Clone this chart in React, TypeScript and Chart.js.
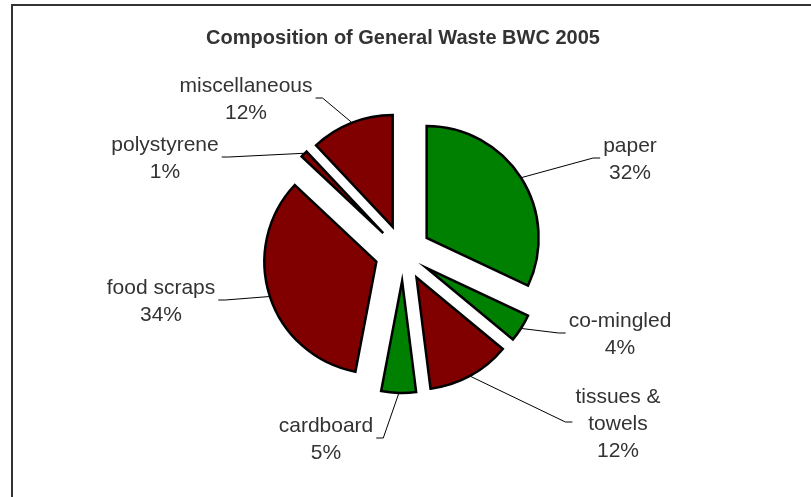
import React, { useEffect, useRef } from "react";
import { Chart, registerables } from "chart.js";

Chart.register(...registerables);

// ---- data ----
const TITLE = "Composition of General Waste BWC 2005";
const categories = [
  "paper",
  "co-mingled",
  "tissues & towels",
  "cardboard",
  "food scraps",
  "polystyrene",
  "miscellaneous",
];
const values = [32, 4, 12, 5, 34, 1, 12];
const sliceColors = ["#008000", "#008000", "#800000", "#008000", "#800000", "#800000", "#800000"];

// ---- layout (label block centres relative to the pie centre) ----
const labelOffsetX = [227, 217, 215, -77, -242, -238, -157];
const labelOffsetY = [-95, 80, 169, 185, 47, -96, -155];

const FONT = "'Liberation Sans', Arial, Helvetica, sans-serif";
const TEXT = "#333333";
const EXPLODE = 28;
const RADIUS = 112;
const LABEL_SIZE = 21;
const LINE_H = 27;
const CAP_H = 15;
const WRAP_W = 120;

function wrap(ctx: CanvasRenderingContext2D, text: string, maxW: number): string[] {
  const words = text.split(" ");
  const out: string[] = [];
  let cur = "";
  for (const w of words) {
    const test = cur ? cur + " " + w : w;
    if (cur && ctx.measureText(test).width > maxW) {
      out.push(cur);
      cur = w;
    } else {
      cur = test;
    }
  }
  if (cur) out.push(cur);
  return out;
}

const explodePlugin = {
  id: "explodeSlices",
  beforeDatasetDraw(chart: any, args: any) {
    const ctx = chart.ctx as CanvasRenderingContext2D;
    args.meta.data.forEach((arc: any) => {
      const mid = (arc.startAngle + arc.endAngle) / 2;
      ctx.save();
      ctx.translate(Math.cos(mid) * EXPLODE, Math.sin(mid) * EXPLODE);
      arc.draw(ctx, chart.chartArea);
      ctx.restore();
    });
    return false;
  },
};

const labelPlugin = {
  id: "sliceLabels",
  afterDatasetsDraw(chart: any) {
    const ctx = chart.ctx as CanvasRenderingContext2D;
    const meta = chart.getDatasetMeta(0);
    const total = values.reduce((a, b) => a + b, 0);
    ctx.save();
    ctx.font = `${LABEL_SIZE}px ${FONT}`;
    ctx.fillStyle = TEXT;
    ctx.strokeStyle = "#000";
    ctx.lineWidth = 1;
    ctx.textAlign = "center";
    ctx.textBaseline = "alphabetic";
    meta.data.forEach((arc: any, i: number) => {
      const mid = (arc.startAngle + arc.endAngle) / 2;
      const cx = arc.x + Math.cos(mid) * EXPLODE;
      const cy = arc.y + Math.sin(mid) * EXPLODE;
      const r = arc.outerRadius + 1;
      const px = cx + Math.cos(mid) * r;
      const py = cy + Math.sin(mid) * r;
      const lines = [...wrap(ctx, categories[i], WRAP_W), Math.round((values[i] / total) * 100) + "%"];
      const w = Math.max(...lines.map((l) => ctx.measureText(l).width));
      const lx = arc.x + labelOffsetX[i];
      const ly = arc.y + labelOffsetY[i];
      const blockH = (lines.length - 1) * LINE_H + CAP_H;
      const firstBase = ly - blockH / 2 + CAP_H;
      lines.forEach((l, k) => ctx.fillText(l, lx, firstBase + k * LINE_H));
      const side = lx > px ? -1 : 1;
      const endX = lx + side * (w / 2 + 3);
      const elbowX = endX + side * 7;
      ctx.beginPath();
      ctx.moveTo(px, py);
      ctx.lineTo(elbowX, ly);
      ctx.lineTo(endX, ly);
      ctx.stroke();
    });
    ctx.restore();
  },
};

export default function App() {
  const ref = useRef<HTMLCanvasElement>(null);
  useEffect(() => {
    const chart = new Chart(ref.current!, {
      type: "pie",
      data: {
        labels: categories,
        datasets: [
          {
            data: values,
            backgroundColor: sliceColors,
            borderColor: "#000000",
            borderWidth: 2.5,
            borderJoinStyle: "miter",
            radius: RADIUS,
          } as any,
        ],
      },
      options: {
        responsive: false,
        animation: false,
        events: [],
        layout: { padding: { top: 0, bottom: 41, left: 0, right: 5 } },
        plugins: {
          legend: { display: false },
          tooltip: { enabled: false },
          title: {
            display: true,
            text: TITLE,
            color: TEXT,
            font: { family: FONT, size: 20, weight: "bold" },
            padding: { top: 26, bottom: 0 },
          },
        },
      } as any,
      plugins: [explodePlugin, labelPlugin],
    });
    return () => chart.destroy();
  }, []);
  return (
    <div style={{ position: "absolute", left: 0, top: 0, width: 811, height: 497, overflow: "hidden", background: "#ffffff" }}>
      <div
        style={{
          position: "absolute",
          left: 11,
          top: 4,
          width: 900,
          height: 600,
          borderLeft: "2px solid #333333",
          borderTop: "2px solid #333333",
        }}
      />
      <canvas ref={ref} width={811} height={497} style={{ position: "absolute", left: 0, top: 0, width: 811, height: 497 }} />
    </div>
  );
}
